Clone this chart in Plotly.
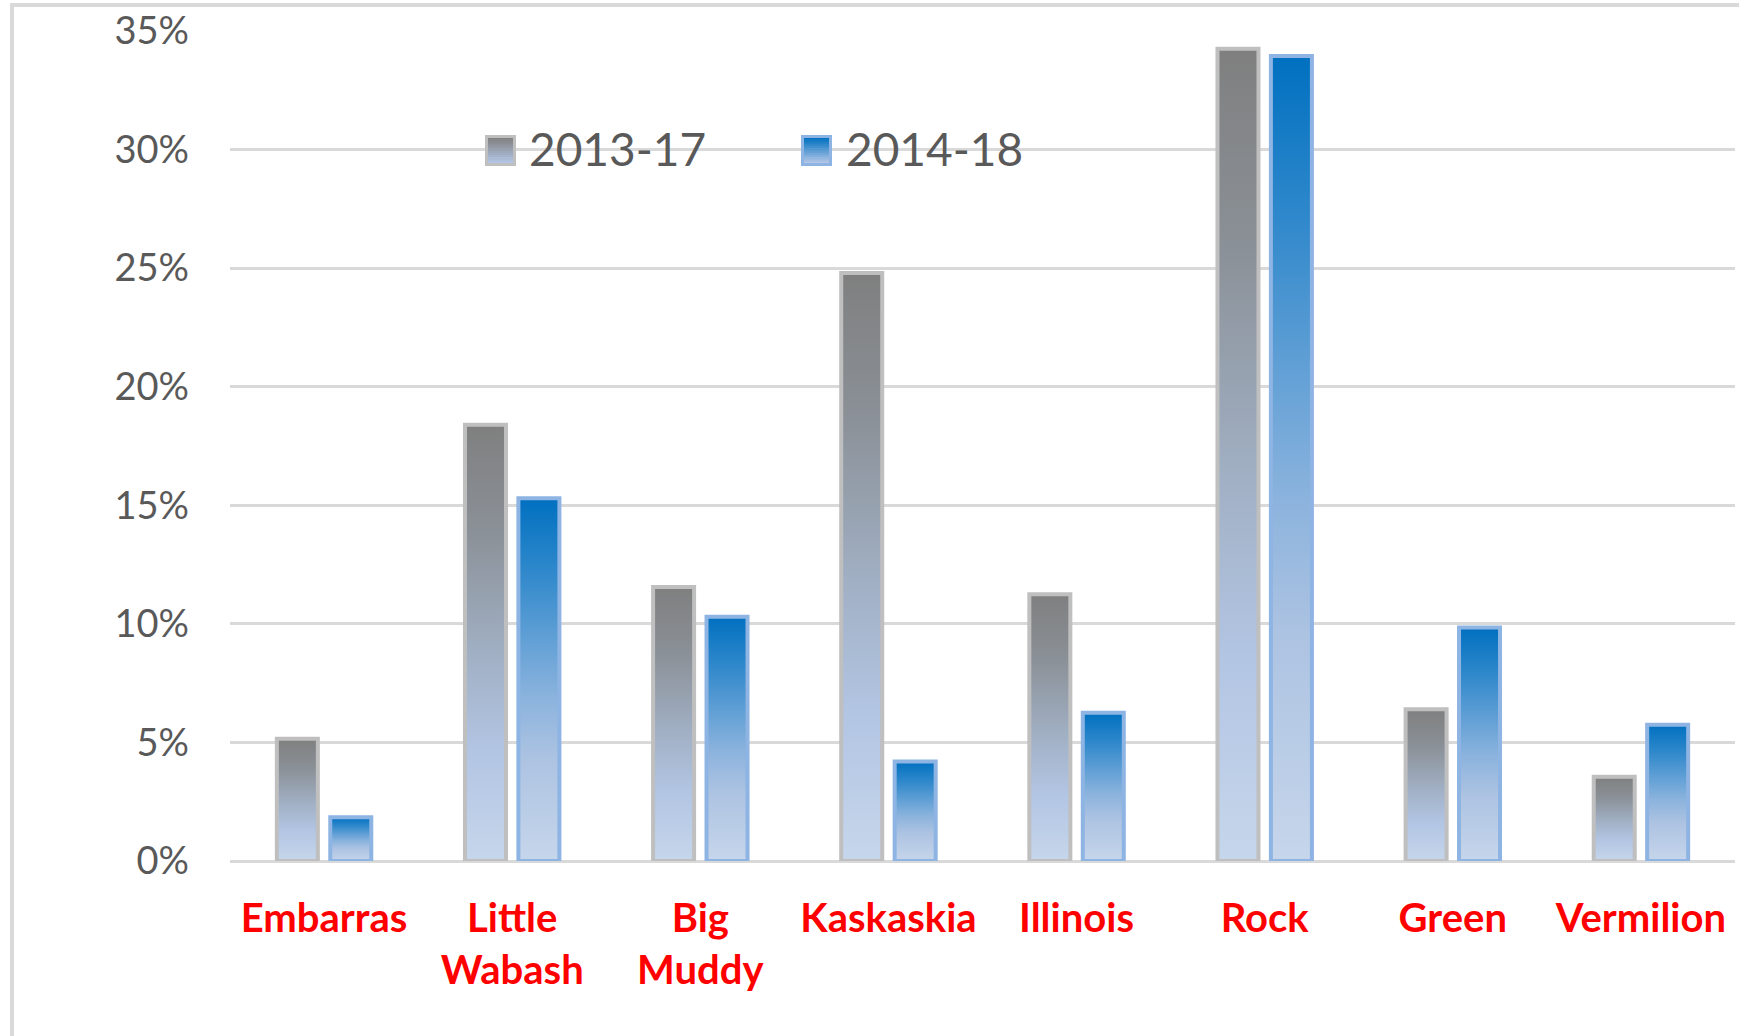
import plotly.graph_objects as go

# ---- data -------------------------------------------------------------
categories = ["Embarras", "Little Wabash", "Big Muddy", "Kaskaskia",
              "Illinois", "Rock", "Green", "Vermilion"]
series_names = ["2013-17", "2014-18"]
values_2013_17 = [5.15, 18.4, 11.55, 24.8, 11.25, 34.25, 6.4, 3.55]
values_2014_18 = [1.85, 15.3, 10.3, 4.2, 6.25, 33.95, 9.85, 5.75]
y_tick_values = [0, 5, 10, 15, 20, 25, 30, 35]
y_tick_labels = [f"{v}%" for v in y_tick_values]

# ---- geometry -----------------------------------------------------------
FIG_W, FIG_H = 1739, 1036
ML, MR, MT, MB = 230, 4, 31, 175
PW = FIG_W - ML - MR
PH = FIG_H - MT - MB
Y_MAX = 35

BAR_W = 0.218
BAR_OFFSETS = [-0.251, 0.033]


def paper_x(px):
    return (px - ML) / PW


def paper_y(py):
    return (FIG_H - MB - py) / PH


def hex_rgb(h):
    h = h.lstrip("#")
    return tuple(int(h[i:i + 2], 16) for i in (0, 2, 4))


def lerp_color(c0, c1, t):
    a, b = hex_rgb(c0), hex_rgb(c1)
    return "rgb({},{},{})".format(*(round(a[k] + (b[k] - a[k]) * t) for k in range(3)))


# ---- styles ----------------------------------------------------------------
styles = [
    dict(border="#bfbfbf", key_top="#808080", key_bottom="#b4c7e7",
         scale=[[0.0, "#c6d6eb"], [0.25, "#b2c5e3"], [0.5, "#9fadc0"],
                [0.75, "#8b9198"], [1.0, "#7f7f7f"]]),
    dict(border="#8eb4e3", key_top="#0070c0", key_bottom="#b4c7e7",
         scale=[[0.0, "#c6d6eb"], [0.28, "#adc3e2"], [0.45, "#8bb3dd"],
                [0.6, "#64a1d6"], [0.8, "#2f88cb"], [1.0, "#0070c0"]]),
]

all_values = [values_2013_17, values_2014_18]
x_idx = list(range(len(categories)))

fig = go.Figure()

# gradient fill of each bar
for values, st, off in zip(all_values, styles, BAR_OFFSETS):
    for i, v in zip(x_idx, values):
        x0, x1 = i + off, i + off + BAR_W
        fig.add_trace(go.Scatter(
            x=[x0, x0, x1, x1, x0], y=[0, v, v, 0, 0],
            mode="lines", fill="toself",
            line=dict(width=0, color="rgba(0,0,0,0)"),
            fillgradient=dict(type="vertical", colorscale=st["scale"],
                              start=0, stop=v),
            showlegend=False, hoverinfo="skip"))

# bar outlines on an overlaid axis pair so they sit above the fills
for values, name, st, off in zip(all_values, series_names, styles, BAR_OFFSETS):
    fig.add_trace(go.Bar(
        x=x_idx, y=values, name=name, width=BAR_W, offset=off,
        marker=dict(color="rgba(0,0,0,0)",
                    line=dict(color=st["border"], width=4)),
        xaxis="x2", yaxis="y2", showlegend=False))

# ---- legend keys and labels ---------------------------------------------
shapes = []
annotations = []
key_left = [485, 801]
text_left = [527, 844]
KEY_SIZE = 31
KEY_TOP = 135
N_BANDS = 12
for st, name, kx, tx in zip(styles, series_names, key_left, text_left):
    band_h = (KEY_SIZE - 4) / N_BANDS
    for b in range(N_BANDS):
        y0 = KEY_TOP + 2 + b * band_h
        shapes.append(dict(
            type="rect", xref="paper", yref="paper",
            x0=paper_x(kx + 2), x1=paper_x(kx + KEY_SIZE - 2),
            y0=paper_y(y0), y1=paper_y(y0 + band_h + 0.6),
            fillcolor=lerp_color(st["key_top"], st["key_bottom"], b / (N_BANDS - 1)),
            line=dict(width=0), layer="above"))
    shapes.append(dict(
        type="rect", xref="paper", yref="paper",
        x0=paper_x(kx + 1.5), x1=paper_x(kx + KEY_SIZE - 1.5),
        y0=paper_y(KEY_TOP + 1.5), y1=paper_y(KEY_TOP + KEY_SIZE - 1.5),
        line=dict(color=st["border"], width=3), layer="above"))
    annotations.append(dict(
        text=name, xref="paper", yref="paper",
        x=paper_x(tx), y=paper_y(KEY_TOP + KEY_SIZE / 2 - 2),
        xanchor="left", yanchor="middle", showarrow=False,
        font=dict(family="Lato", size=46, color="#595959")))

# light frame around the chart area
FRAME = "#d9d9d9"
shapes.append(dict(type="line", xref="paper", yref="paper",
                   x0=paper_x(12), x1=paper_x(12),
                   y0=paper_y(5), y1=paper_y(FIG_H + 5),
                   line=dict(color=FRAME, width=4), layer="above"))
shapes.append(dict(type="line", xref="paper", yref="paper",
                   x0=paper_x(10), x1=paper_x(FIG_W + 5),
                   y0=paper_y(5), y1=paper_y(5),
                   line=dict(color=FRAME, width=4), layer="above"))

tick_text = [c.replace(" ", "<br>") for c in categories]

fig.update_layout(
    width=FIG_W, height=FIG_H,
    margin=dict(l=ML, r=MR, t=MT, b=MB, pad=0),
    paper_bgcolor="white", plot_bgcolor="white",
    font=dict(family="Lato", color="#595959"),
    barmode="overlay",
    showlegend=False,
    shapes=shapes, annotations=annotations,
    xaxis=dict(range=[-0.5, len(categories) - 0.5], tickvals=x_idx,
               ticktext=tick_text, showgrid=False, zeroline=False,
               showline=False, ticks="", ticklabelstandoff=30,
               tickfont=dict(family="Lato", size=40, color="#ff0000",
                             weight="bold")),
    yaxis=dict(range=[0, Y_MAX], tickvals=y_tick_values,
               ticktext=y_tick_labels,
               showgrid=True, gridcolor="#d9d9d9", gridwidth=3,
               zeroline=True, zerolinecolor="#d9d9d9", zerolinewidth=3,
               showline=False, ticks="", ticklabelstandoff=40,
               tickfont=dict(family="Lato", size=38, color="#595959")),
    xaxis2=dict(range=[-0.5, len(categories) - 0.5], overlaying="x",
                visible=False),
    yaxis2=dict(range=[0, Y_MAX], overlaying="y", visible=False),
)

fig.write_html("out.html")
